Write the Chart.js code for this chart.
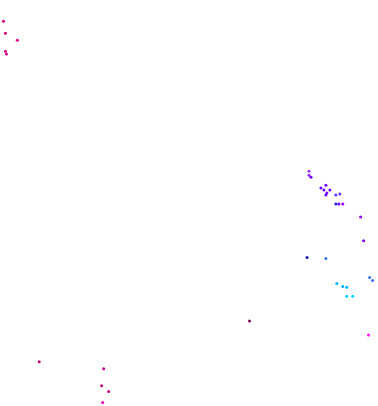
<!DOCTYPE html>
<html>
<head>
<meta charset="utf-8">
<script src="https://cdn.jsdelivr.net/npm/chart.js@4"></script>
<style>
  html, body { margin: 0; padding: 0; background: #fff; }
  #wrap { width: 378px; height: 406px; }
</style>
</head>
<body>
<div id="wrap"><canvas id="myChart" width="378" height="406"></canvas></div>
<script>
const xValues = [
    2, 4, 16, 4, 5,
    310, 310, 312, 327, 322, 325, 331, 328, 327, 337, 341,
    337, 340, 344, 362, 365,
    308, 327, 371, 374,
    338, 344, 348, 348, 354,
    38, 103, 101, 108, 102,
    250, 370
];
const yValues = [
    20, 32, 39, 50, 53,
    171, 175, 177, 185, 188, 190, 190, 193, 195, 195, 194,
    204, 204, 204, 217, 241,
    258, 259, 278, 281,
    284, 287, 288, 297, 297,
    363, 370, 387, 393, 404,
    322, 336
];
const pointColors = [
    "#dd0080", "#dd0080", "#e00088", "#d4007f", "#dd0088",
    "#9933ff", "#8a2be2", "#6a00ff", "#7000ff", "#7000ff", "#7000ff", "#7000ff", "#7000ff", "#7000ff", "#6030ff", "#6030ff",
    "#2020e0", "#6a00ff", "#9900ff", "#9000ff", "#8000f0",
    "#1010b0", "#3070ff", "#3a70ff", "#3a70ff",
    "#00b0ff", "#00b0ff", "#00b0ff", "#00d0ff", "#00d0ff",
    "#c00080", "#c0008a", "#c00080", "#c00090", "#ff00a0",
    "#800050", "#ff00ff"
];

const points = xValues.map(function (x, i) {
    return { x: x, y: yValues[i] };
});

const ctx = document.getElementById("myChart").getContext("2d");
new Chart(ctx, {
    type: 'scatter',
    data: {
        datasets: [{
            data: points,
            backgroundColor: pointColors,
            borderWidth: 0,
            pointRadius: 1.5,
            pointHoverRadius: 1.5,
            clip: false
        }]
    },
    options: {
        responsive: false,
        animation: false,
        layout: { padding: 0 },
        plugins: {
            legend: { display: false },
            tooltip: { enabled: false }
        },
        scales: {
            x: { type: 'linear', min: 0, max: 378, display: false },
            y: { type: 'linear', min: 0, max: 406, reverse: true, display: false }
        }
    }
});
</script>
</body>
</html>
